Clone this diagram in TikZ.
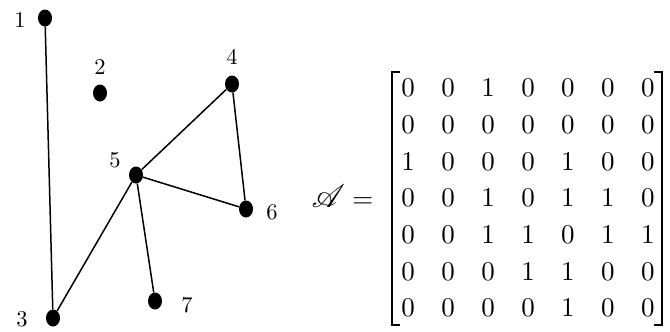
\documentclass[tikz,border=0pt]{standalone}
\usepackage{amsmath, amssymb}
\usepackage{mathrsfs}
\usepackage{xcolor}
\usepackage{tikz}
\usetikzlibrary{matrix,shapes.geometric,positioning,calc}

\begin{document}
\begin{tikzpicture}[
    x=1pt, y=-1pt,
    vertex/.style={ellipse, fill=black, inner sep=0pt, minimum width=14pt, minimum height=17pt},
    vlabel/.style={scale=2.25, inner sep=0pt},
    entry/.style={scale=2.7, minimum width=14.81pt, minimum height=13.59pt, inner sep=0pt},
    edge/.style={draw=black, line width=1.5pt},
    bracket/.style={draw=black, line width=1.6pt}
  ]
    \useasboundingbox (0,0) rectangle (670,332);
    % vertices and their numbers
    \foreach \i/\x/\y/\lx/\ly in {1/45/18/20/20, 2/100/93/100/67, 3/53/318/22/319,
      4/232/84/232/57, 5/136/175/115/160, 6/246/209/272/212, 7/155/301/187/305} {
      \node[vertex] (v\i) at (\x,\y) {};
      \node[vlabel] (l\i) at (\lx,\ly) {\i};
    }
    \draw[edge] (v1) -- (v3);
    \draw[edge] (v3) -- (v5);
    \draw[edge] (v5) -- (v4);
    \draw[edge] (v4) -- (v6);
    \draw[edge] (v5) -- (v6);
    \draw[edge] (v5) -- (v7);
    % adjacency matrix
    \matrix (adj) [matrix of math nodes, inner sep=0pt, column sep=0pt, row sep=0pt,
      nodes={entry}] at (528,198) {
      0 & 0 & 1 & 0 & 0 & 0 & 0 \\
      0 & 0 & 0 & 0 & 0 & 0 & 0 \\
      1 & 0 & 0 & 0 & 1 & 0 & 0 \\
      0 & 0 & 1 & 0 & 1 & 1 & 0 \\
      0 & 0 & 1 & 1 & 0 & 1 & 1 \\
      0 & 0 & 0 & 1 & 1 & 0 & 0 \\
      0 & 0 & 0 & 0 & 1 & 0 & 0 \\
    };
    \coordinate (lt) at (392,72);
    \coordinate (lb) at (392,325);
    \coordinate (rt) at (662,72);
    \coordinate (rb) at (662,325);
    \draw[bracket] ($(lt)+(8,0)$) -- (lt) -- (lb) -- ($(lb)+(8,0)$);
    \draw[bracket] ($(rt)+(-8,0)$) -- (rt) -- (rb) -- ($(rb)+(-8,0)$);
    \node[scale=2.7, inner sep=0pt, anchor=east] (lhs) at (374,196)
      {\scalebox{1.2}{$\mathscr{A}$}$\;=$};
  \end{tikzpicture}
\end{document}
